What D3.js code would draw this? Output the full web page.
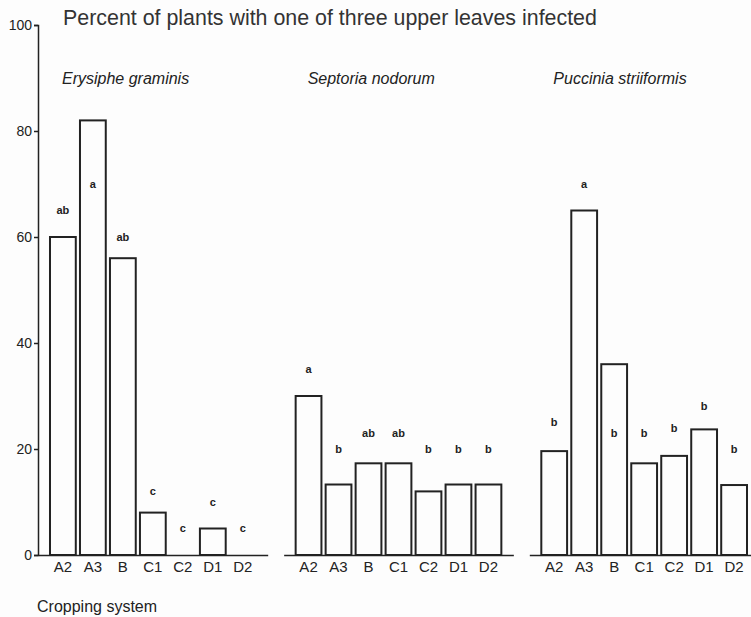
<html>
<head>
<script src="https://d3js.org/d3.v7.min.js"></script>
<style>
  body { margin: 0; background: #fdfdfd; }
  text { font-family: "Liberation Sans", Arial, sans-serif; }
</style>
</head>
<body>
<script>
// cropping systems and pathogens
var systems = ["A2", "A3", "B", "C1", "C2", "D1", "D2"];
var pathogens = ["Erysiphe graminis", "Septoria nodorum", "Puccinia striiformis"];

// percent of plants infected
var erysiphe = [60, 82, 56, 8, 0, 5, 0];
var septoria = [30, 13.3, 17.3, 17.3, 12, 13.3, 13.3];
var puccinia = [19.6, 65, 36, 17.3, 18.7, 23.7, 13.2];

// significance letters and the height (in %) they are printed at
var erysipheLetters = ["ab", "a", "ab", "c", "c", "c", "c"];
var septoriaLetters = ["a", "b", "ab", "ab", "b", "b", "b"];
var pucciniaLetters = ["b", "a", "b", "b", "b", "b", "b"];
var erysipheLetterAt = [65, 70, 60, 12, 5, 10, 5];
var septoriaLetterAt = [35, 20, 23, 23, 20, 20, 20];
var pucciniaLetterAt = [25, 70, 23, 23, 24, 28, 20];

var yTicks = [0, 20, 40, 60, 80, 100];

var panels = [
  {name: pathogens[0], values: erysiphe, letters: erysipheLetters, at: erysipheLetterAt},
  {name: pathogens[1], values: septoria, letters: septoriaLetters, at: septoriaLetterAt},
  {name: pathogens[2], values: puccinia, letters: pucciniaLetters, at: pucciniaLetterAt}
];

var width = 751, height = 617;

var svg = d3.select("body").append("svg")
    .attr("width", width)
    .attr("height", height);

var y = d3.scaleLinear().domain([0, 100]).range([555, 25]);

var panel = d3.scaleBand().domain(pathogens).range([38, 759]).paddingInner(0.065);

var x = d3.scaleBand().domain(systems)
    .range([0, panel.bandwidth()])
    .paddingInner(0.14)
    .paddingOuter(0.4);

svg.append("text")
    .attr("x", 63)
    .attr("y", 25)
    .attr("font-size", 21.4)
    .attr("fill", "#333")
    .text("Percent of plants with one of three upper leaves infected");

// y axis
svg.append("g")
    .attr("transform", "translate(38,0)")
    .call(d3.axisLeft(y).tickValues(yTicks).tickSize(4).tickPadding(2))
    .call(g => g.select(".domain").attr("stroke", "#222").attr("stroke-width", 1.5))
    .call(g => g.selectAll(".tick line").attr("stroke", "#222").attr("stroke-width", 1.5))
    .call(g => g.selectAll(".tick text")
        .attr("font-size", 14)
        .attr("font-family", "Liberation Sans, Arial, sans-serif")
        .attr("fill", "#222"));

var groups = svg.selectAll("g.panel")
    .data(panels).enter()
    .append("g")
    .attr("class", "panel")
    .attr("transform", d => "translate(" + panel(d.name) + ",0)");

groups.append("text")
    .attr("x", 24)
    .attr("y", 84)
    .attr("font-size", 16)
    .attr("font-style", "italic")
    .attr("fill", "#222")
    .text(d => d.name);

groups.selectAll("rect")
    .data(d => d.values.map((v, i) => ({key: systems[i], value: v})))
    .enter().append("rect")
    .filter(d => d.value > 0)
    .attr("x", d => x(d.key))
    .attr("y", d => y(d.value))
    .attr("width", x.bandwidth())
    .attr("height", d => y(0) - y(d.value))
    .attr("fill", "none")
    .attr("stroke", "#222")
    .attr("stroke-width", 2);

groups.selectAll("text.letter")
    .data(d => d.letters.map((l, i) => ({key: systems[i], letter: l, at: d.at[i]})))
    .enter().append("text")
    .attr("class", "letter")
    .attr("x", d => x(d.key) + x.bandwidth() / 2)
    .attr("y", d => y(d.at))
    .attr("dy", "0.35em")
    .attr("text-anchor", "middle")
    .attr("font-size", 11)
    .attr("font-weight", "bold")
    .attr("fill", "#222")
    .text(d => d.letter);

// baseline with category labels
groups.append("g")
    .attr("transform", "translate(0," + y(0) + ")")
    .call(d3.axisBottom(x).tickSize(0).tickPadding(6).tickSizeOuter(0))
    .call(g => g.select(".domain").attr("stroke", "#222").attr("stroke-width", 1.5))
    .call(g => g.selectAll(".tick text")
        .attr("font-size", 15)
        .attr("font-family", "Liberation Sans, Arial, sans-serif")
        .attr("fill", "#222"));

svg.append("text")
    .attr("x", 37)
    .attr("y", 612)
    .attr("font-size", 16)
    .attr("fill", "#222")
    .text("Cropping system");
</script>
</body>
</html>
